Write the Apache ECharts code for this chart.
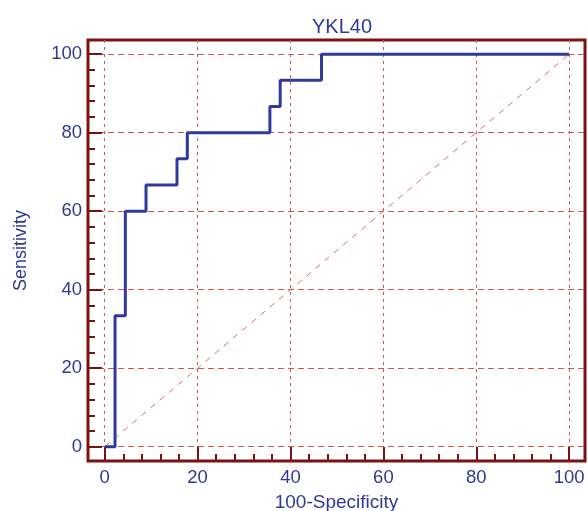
<!DOCTYPE html>
<html>
<head>
<meta charset="utf-8">
<script src="https://cdn.jsdelivr.net/npm/echarts@6/dist/echarts.min.js"></script>
<style>html,body{margin:0;padding:0;background:#fff}#c{width:588px;height:511px}</style>
</head>
<body>
<div id="c"></div>
<script>
// ROC corner points (100-Specificity, Sensitivity)
var fpr = [0, 2.22, 4.44, 8.89, 15.56, 17.78, 35.56, 37.78, 46.67, 100];
var tpr = [0, 33.33, 60, 66.67, 73.33, 80, 86.67, 93.33, 100, 100];
var diagX = [0, 100];
var diagY = [0, 100];
var majorTicks = [0, 20, 40, 60, 80, 100];
var minorTicks = [4, 8, 12, 16, 24, 28, 32, 36, 44, 48, 52, 56, 64, 68, 72, 76, 84, 88, 92, 96];
var titleText = 'YKL40';
var xName = '100-Specificity';
var yName = 'Sensitivity';

var frameColor = '#7a1212';
var blue = '#2e3a96';
var gridColor = '#cc5555';
var font = "'Liberation Sans', Arial, sans-serif";

function zip(a, b) { return a.map(function (v, i) { return [v, b[i]]; }); }

var chart = echarts.init(document.getElementById('c'), null, { renderer: 'canvas' });
chart.setOption({
  animation: false,
  backgroundColor: '#fff',
  title: {
    text: titleText, left: 337, top: 12, textAlign: 'center',
    textStyle: { color: blue, fontSize: 20, fontWeight: 'normal', fontFamily: font }
  },
  grid: { left: 88, right: 3, top: 40, bottom: 50, containLabel: false, outerBoundsMode: 'none',
          show: true, borderColor: frameColor, borderWidth: 3, backgroundColor: 'transparent' },
  xAxis: [{
    type: 'value', min: -3.6, max: 103.4, position: 'bottom',
    name: xName, nameLocation: 'middle', nameGap: 32, nameMoveOverlap: false,
    nameTextStyle: { color: blue, fontSize: 19, fontFamily: font },
    axisLine: { show: false, onZero: false },
    axisTick: { show: true, inside: true, length: 14, customValues: majorTicks, lineStyle: { color: frameColor, width: 2 } },
    axisLabel: { customValues: majorTicks, margin: 7, color: blue, fontSize: 18.5, fontFamily: font },
    splitLine: { show: true, lineStyle: { color: gridColor, width: 1, type: [3, 4], opacity: 1 } },
    minorSplitLine: { show: false }
  }, {
    type: 'value', min: -3.6, max: 103.4, position: 'bottom',
    axisLine: { show: false, onZero: false },
    axisTick: { show: true, inside: true, length: 7, customValues: minorTicks, lineStyle: { color: frameColor, width: 2 } },
    axisLabel: { show: false },
    splitLine: { show: false }
  }],
  yAxis: [{
    type: 'value', min: -3.65, max: 103.6, position: 'left',
    name: yName, nameLocation: 'middle', nameGap: 58, nameMoveOverlap: false,
    nameTextStyle: { color: blue, fontSize: 18, fontFamily: font },
    axisLine: { show: false, onZero: false },
    axisTick: { show: true, inside: true, length: 14, customValues: majorTicks, lineStyle: { color: frameColor, width: 2 } },
    axisLabel: { customValues: majorTicks, margin: 6, color: blue, fontSize: 18.5, fontFamily: font },
    splitLine: { show: true, lineStyle: { color: gridColor, width: 1, type: [6, 4], opacity: 1 } }
  }, {
    type: 'value', min: -3.65, max: 103.6, position: 'left',
    axisLine: { show: false, onZero: false },
    axisTick: { show: true, inside: true, length: 7, customValues: minorTicks, lineStyle: { color: frameColor, width: 2 } },
    axisLabel: { show: false },
    splitLine: { show: false }
  }],
  series: [{
    type: 'line', xAxisIndex: 0, yAxisIndex: 0,
    data: zip(diagX, diagY), symbol: 'none', silent: true, z: 2,
    lineStyle: { color: '#d07070', width: 1, type: [6, 6] }
  }, {
    type: 'line', xAxisIndex: 0, yAxisIndex: 0,
    data: zip(fpr, tpr), step: 'end', symbol: 'none', z: 3,
    lineStyle: { color: '#2f3a9c', width: 3 }
  }]
});
</script>
</body>
</html>
